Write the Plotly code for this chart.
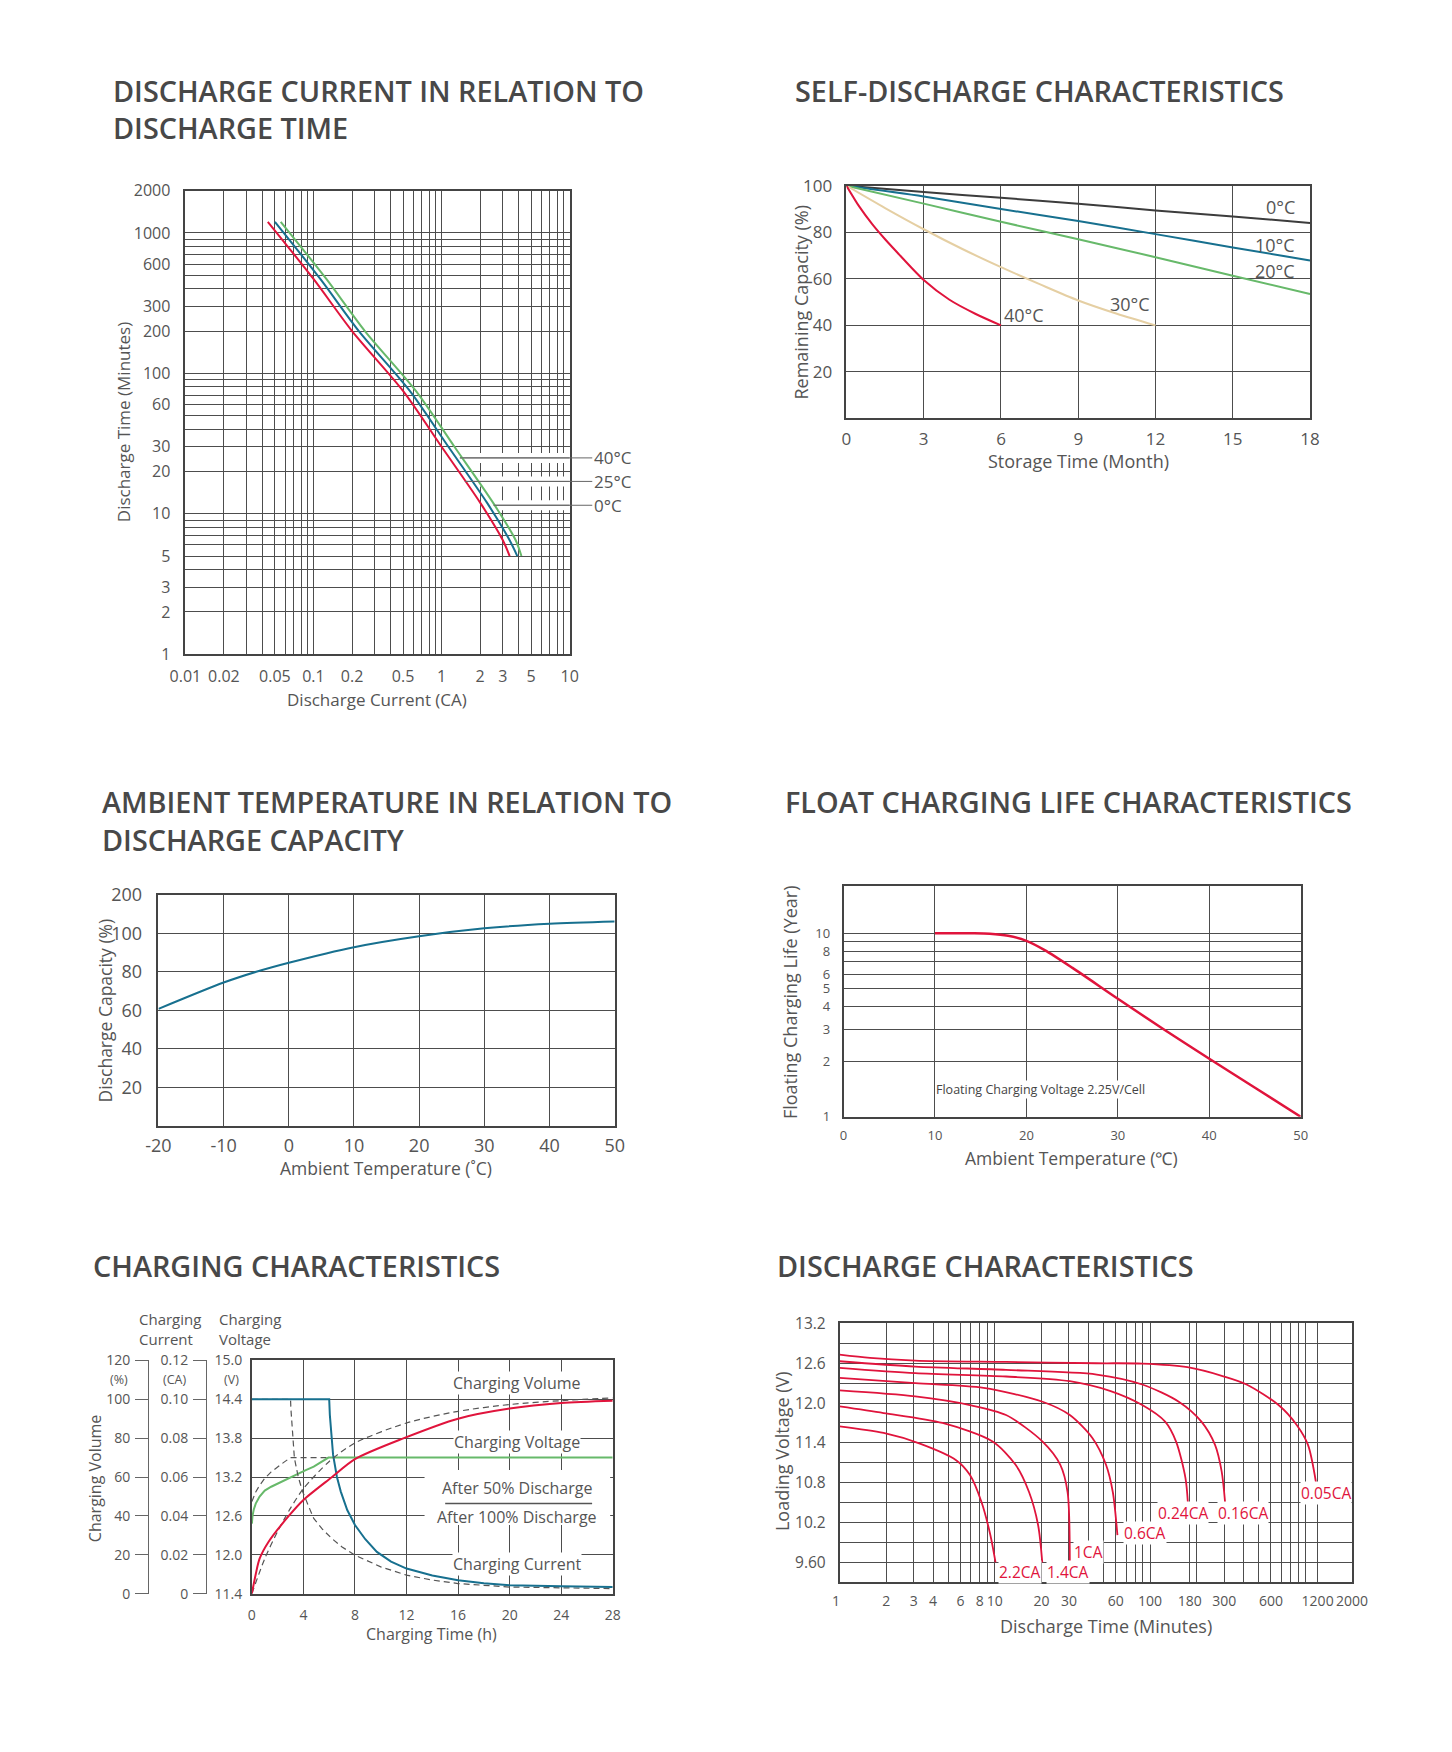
import math
import plotly.graph_objects as go

W, H = 1452, 1752
FONT = "Open Sans"
TXT = "#555555"
TITLE_C = "#484848"
GRID = "#4d4d4d"
FRAME = "#444444"
RED = "#e0143c"
BLUE = "#17708f"
GREEN = "#67b96a"
TAN = "#e5cfa3"
DARK = "#3c3c3c"
DASH = "#555555"
NB = "\u00a0"

# ---------------- Panel 1: discharge current vs discharge time ----------------
p1_minutes = [1200, 470, 200, 75, 30, 12, 6.5, 5]
p1_ca_0c = [0.044, 0.1, 0.2, 0.5, 1.0, 2.0, 3.0, 3.4]
p1_ca_25c = [0.05, 0.113, 0.226, 0.565, 1.13, 2.26, 3.39, 3.9]
p1_ca_40c = [0.0555, 0.126, 0.252, 0.63, 1.26, 2.52, 3.78, 4.2]
p1_x_labels = ["0.01", "0.02", "0.05", "0.1", "0.2", "0.5", "1", "2", "3", "5", "10"]
p1_y_labels = ["1", "2", "3", "5", "10", "20", "30", "60", "100", "200", "300", "600", "1000", "2000"]
p1_leader_labels = ["40°C", "25°C", "0°C"]
p1_leader_minutes = [25, 17, 11.5]
p1_leader_start_ca = [1.39, 1.52, 2.55]

# ---------------- Panel 2: self-discharge ----------------
sd_months = [0, 3, 6, 9, 12, 15, 18]
sd_0c = [100, 97.3, 94.8, 92.3, 89.4, 86.8, 84.0]
sd_10c = [100, 95.4, 90.0, 84.8, 79.2, 73.5, 67.9]
sd_20c = [100, 92.3, 84.5, 77.0, 69.3, 61.3, 53.5]
sd_30c_months = [0, 1.5, 3, 4.5, 6, 7.5, 9, 10.5, 12]
sd_30c = [100, 90.4, 81.3, 72.8, 65.0, 57.7, 50.7, 45.0, 40.0]
sd_40c_months = [0, 0.5, 1, 1.5, 2, 3, 4, 5, 6]
sd_40c = [100, 91.0, 83.5, 77.0, 71.0, 59.5, 51.0, 45.0, 40.0]
sd_x_ticks = [0, 3, 6, 9, 12, 15, 18]
sd_y_ticks = [0, 20, 40, 60, 80, 100]
sd_y_labels = ["", "20", "40", "60", "80", "100"]

# ---------------- Panel 3: ambient temperature vs capacity ----------------
amb_temp = [-20, -10, -5, 0, 10, 20, 30, 40, 50]
amb_cap = [60.7, 74.4, 80.0, 84.7, 92.8, 98.5, 102.6, 105.0, 106.2]
amb_x_ticks = [-20, -10, 0, 10, 20, 30, 40, 50]
amb_y_ticks = [20, 40, 60, 80, 100, 120]
amb_y_labels = ["20", "40", "60", "80", "100", "200"]

# ---------------- Panel 4: float charging life ----------------
fl_temp = [10, 14, 16, 18, 20, 22, 25, 30, 35, 40, 45, 50]
fl_life = [10, 10, 9.95, 9.7, 9.1, 8.1, 6.5, 4.4, 3.0, 2.07, 1.44, 1.0]
fl_x_ticks = [0, 10, 20, 30, 40, 50]
fl_y_grid = [1, 2, 3, 4, 5, 6, 7, 8, 9, 10]
fl_y_labels = ["1", "2", "3", "4", "5", "6", "8", "10"]

# ---------------- Panel 5: charging characteristics ----------------
ch_cur_h = [0, 6.0, 6.05, 6.15, 6.3, 6.6, 6.9, 7.4, 8.0, 8.8, 9.7, 10.8, 12, 14, 16, 18, 20, 24, 28]
ch_cur = [0.1, 0.1, 0.092, 0.082, 0.0715, 0.06, 0.0525, 0.043, 0.0353, 0.028, 0.0215, 0.0165,
          0.0129, 0.0093, 0.0069, 0.0053, 0.0043, 0.0038, 0.0034]
ch_vol_h = [0, 0.3, 0.6, 1.3, 2.88, 4, 6.2, 8, 11.8, 16, 20, 24, 28]
ch_vol = [0, 10, 18, 26.7, 40.1, 48.2, 59.9, 69.2, 80, 90, 95.2, 98.1, 99.3]
ch_volt_h = [0, 0.05, 0.15, 0.3, 0.6, 1.0, 1.5, 2.0, 2.7, 3.4, 4.1, 4.8, 5.4, 5.94, 28]
ch_volt = [12.48, 12.6, 12.7, 12.79, 12.9, 12.99, 13.05, 13.1, 13.17, 13.23, 13.3, 13.36, 13.43, 13.5, 13.5]
ch50_cur_h = [0, 3.0, 3.03, 3.1, 3.2, 3.3, 3.6, 3.94, 4.4, 4.8, 5.5, 6.2, 7, 8, 10, 12, 14, 16, 20, 28]
ch50_cur = [0.1, 0.1, 0.095, 0.087, 0.078, 0.0697, 0.06, 0.0525, 0.045, 0.0387, 0.033, 0.0284,
            0.024, 0.0198, 0.0138, 0.0095, 0.007, 0.0052, 0.0034, 0.0026]
ch50_vol_h = [0, 1, 2, 3, 4, 6, 8, 12, 16, 20, 24, 28]
ch50_vol = [0, 18, 32, 44, 54, 68, 77.5, 87.8, 93.8, 97.3, 99.3, 100.7]
ch50_volt_h = [0, 0.3, 0.6, 1.0, 1.5, 2.0, 2.5, 3.0, 6.0]
ch50_volt = [12.82, 12.97, 13.07, 13.18, 13.28, 13.36, 13.43, 13.5, 13.5]
ch_x_ticks = [0, 4, 8, 12, 16, 20, 24, 28]
ch_v_ticks = [11.4, 12.0, 12.6, 13.2, 13.8, 14.4, 15.0]
ch_v_labels = ["11.4", "12.0", "12.6", "13.2", "13.8", "14.4", "15.0"]
ch_c_ticks = [0, 0.02, 0.04, 0.06, 0.08, 0.10, 0.12]
ch_c_labels = ["0", "0.02", "0.04", "0.06", "0.08", "0.10", "0.12"]
ch_p_ticks = [0, 20, 40, 60, 80, 100, 120]
ch_p_labels = ["0", "20", "40", "60", "80", "100", "120"]

# ---------------- Panel 6: discharge characteristics ----------------
dc_names = ["0.05CA", "0.16CA", "0.24CA", "0.6CA", "1CA", "1.4CA", "2.2CA"]
dc_t_005 = [1, 1.57, 3.07, 11.8, 45, 89, 174, 300, 418, 672, 880, 1040, 1170]
dc_v_005 = [12.73, 12.68, 12.64, 12.62, 12.60, 12.595, 12.54, 12.4, 12.28, 11.97, 11.67, 11.37, 10.81]
dc_t_016 = [1, 3.07, 11.8, 45.3, 89, 153, 214, 262, 289, 304]
dc_v_016 = [12.63, 12.55, 12.5, 12.43, 12.28, 12.02, 11.72, 11.37, 10.97, 10.51]
dc_t_024 = [1, 3.07, 11.8, 30.4, 55.7, 89, 125, 147, 169, 175]
dc_v_024 = [12.53, 12.45, 12.4, 12.33, 12.18, 11.97, 11.72, 11.42, 10.87, 10.51]
dc_t_06 = [1, 3.07, 8.46, 20.3, 30.4, 42.6, 52, 57.5, 61.6]
dc_v_06 = [12.38, 12.3, 12.23, 12.02, 11.82, 11.47, 11.07, 10.66, 10.01]
dc_t_1 = [1, 3.07, 6.9, 11.8, 20.3, 26.4, 29.4, 30.4]
dc_v_1 = [12.19, 12.1, 11.97, 11.82, 11.42, 11.07, 10.66, 9.6]
dc_t_14 = [1, 1.92, 4.6, 9.67, 13.6, 16.6, 19.0, 20.2]
dc_v_14 = [11.95, 11.85, 11.7, 11.42, 11.07, 10.66, 10.16, 9.6]
dc_t_22 = [1, 1.92, 3.29, 5.63, 6.9, 8.2, 9.36, 10.1]
dc_v_22 = [11.65, 11.55, 11.39, 11.14, 10.92, 10.51, 10.01, 9.6]
dc_label_t = [929, 271, 111, 66.8, 32, 21.3, 10.5]
dc_label_v = [10.64, 10.35, 10.35, 10.05, 9.75, 9.45, 9.45]
dc_x_labels = ["1", "2", "3", "4", "6", "8", "10", "20", "30", "60", "100", "180", "300", "600", "1200", "2000"]
dc_y_labels = ["9.60", "10.2", "10.8", "11.4", "12.0", "12.6", "13.2"]


# ---------------- helpers ----------------
def xdom(l, r):
    return [l / W, r / W]


def ydom(t, b):
    return [1 - b / H, 1 - t / H]


def make_ticks(grid, labels):
    vals = [float(s) for s in labels]
    out = []
    for g in grid:
        t = ""
        for v, s in zip(vals, labels):
            if abs(v - g) <= 1e-6 * max(1.0, abs(g)):
                t = s
        out.append(t)
    return out


def axis(domain, anchor, rng, tickvals, ticktext, size, standoff, typ="linear"):
    return dict(domain=domain, anchor=anchor, range=rng, type=typ,
                tickmode="array", tickvals=tickvals, ticktext=ticktext,
                showgrid=True, gridcolor=GRID, gridwidth=1.1,
                showline=True, mirror=True, linecolor=FRAME, linewidth=1.6,
                ticks="", zeroline=False, fixedrange=True, tickangle=0,
                tickfont=dict(family=FONT, size=size, color=TXT),
                ticklabelstandoff=standoff)


def txt(text, x, y, size, color=TXT, xanchor="center", yanchor="middle", angle=0,
        weight=None, xref="paper", yref="paper", bg=None, align="center"):
    f = dict(family=FONT, size=size, color=color)
    if weight:
        f["weight"] = weight
    d = dict(text=text, x=x, y=y, xref=xref, yref=yref, showarrow=False,
             xanchor=xanchor, yanchor=yanchor, textangle=angle, font=f, align=align)
    if bg:
        d["bgcolor"] = bg
        d["borderpad"] = 0
    return d


def P(x, y):
    return x / W, 1 - y / H


fig = go.Figure()


def line(x, y, xa, ya, color, width=2, dash=None, shape="spline"):
    fig.add_trace(go.Scatter(x=x, y=y, xaxis=xa, yaxis=ya, mode="lines",
                             line=dict(color=color, width=width, dash=dash,
                                       shape=shape, smoothing=0.8),
                             hoverinfo="skip", showlegend=False))


# Panel 1 traces
line(p1_ca_0c, p1_minutes, "x", "y", RED)
line(p1_ca_25c, p1_minutes, "x", "y", BLUE)
line(p1_ca_40c, p1_minutes, "x", "y", GREEN)
# Panel 2
line(sd_months, sd_0c, "x2", "y2", DARK)
line(sd_months, sd_10c, "x2", "y2", BLUE)
line(sd_months, sd_20c, "x2", "y2", GREEN)
line(sd_30c_months, sd_30c, "x2", "y2", TAN)
line(sd_40c_months, sd_40c, "x2", "y2", RED)
# Panel 3
line(amb_temp, amb_cap, "x3", "y3", BLUE)
# Panel 4
line(fl_temp, fl_life, "x4", "y4", RED, width=2.5)
# Panel 5 (dashed first, then solid)
line(ch50_cur_h, ch50_cur, "x5", "y6", DASH, width=1.2, dash="6px,4px", shape="linear")
line(ch50_vol_h, ch50_vol, "x5", "y7", DASH, width=1.2, dash="6px,4px")
line(ch50_volt_h, ch50_volt, "x5", "y5", DASH, width=1.2, dash="6px,4px", shape="linear")
line(ch_volt_h, ch_volt, "x5", "y5", GREEN, shape="linear")
line(ch_vol_h, ch_vol, "x5", "y7", RED)
line(ch_cur_h, ch_cur, "x5", "y6", BLUE, shape="linear")
# Panel 6
for t, v in [(dc_t_005, dc_v_005), (dc_t_016, dc_v_016), (dc_t_024, dc_v_024),
             (dc_t_06, dc_v_06), (dc_t_1, dc_v_1), (dc_t_14, dc_v_14), (dc_t_22, dc_v_22)]:
    line(t, v, "x6", "y8", RED, width=1.8)

# ---------------- axes ----------------
p1_x_grid = [round(m * 10.0 ** e, 4) for e in (-2, -1, 0) for m in range(1, 10)] + [10]
p1_y_grid = [m * 10 ** e for e in range(0, 3) for m in range(1, 10)] + [1000, 2000]
dc_x_grid = list(range(1, 11)) + list(range(20, 101, 10)) + [180] + list(range(200, 1001, 100)) + [1200, 2000]
dc_y_grid = [round(9.3 + 0.3 * i, 1) for i in range(14)]
dc_x_text = make_ticks(dc_x_grid, dc_x_labels)
dc_x_text = [s + NB * 2 if s == "1" else s for s in dc_x_text]

lay = {}
lay["xaxis"] = axis(xdom(165, 558), "y", [-2, 1], p1_x_grid, make_ticks(p1_x_grid, p1_x_labels), 16, 7, "log")
lay["yaxis"] = axis(ydom(172, 642), "x", [0, math.log10(2000)], p1_y_grid, make_ticks(p1_y_grid, p1_y_labels), 16, 10, "log")

lay["xaxis2"] = axis(xdom(841, 1315), "y2", [0, 18], sd_x_ticks, [str(v) for v in sd_x_ticks], 17, 4)
lay["yaxis2"] = axis(ydom(167, 403), "x2", [0, 100], sd_y_ticks, sd_y_labels, 17, 9)

lay["xaxis3"] = axis(xdom(137.5, 604), "y3", [-20, 50], amb_x_ticks, [str(v) for v in amb_x_ticks], 18, 3)
lay["yaxis3"] = axis(ydom(886, 1120), "x3", [0, 120], amb_y_ticks, amb_y_labels, 18, 11)

lay["xaxis4"] = axis(xdom(838, 1305.5), "y4", [0, 50], fl_x_ticks, [str(v) for v in fl_x_ticks], 13, 6)
lay["yaxis4"] = axis(ydom(877.5, 1111), "x4", [0, math.log10(18)], fl_y_grid, make_ticks(fl_y_grid, fl_y_labels), 13, 9, "log")

lay["xaxis5"] = axis(xdom(233, 602), "y5", [0, 28], ch_x_ticks, [str(v) for v in ch_x_ticks], 14, 8)
lay["yaxis5"] = axis(ydom(1358, 1594.5), "x5", [11.4, 15.0], ch_v_ticks, ch_v_labels, 14, 5)
for name, pos, rng, tv, tt in [("yaxis6", 185.6, [0, 0.12], ch_c_ticks, ch_c_labels),
                               ("yaxis7", 126.4, [0, 120], ch_p_ticks, ch_p_labels)]:
    lay[name] = dict(overlaying="y5", anchor="free", position=pos / W, side="left",
                     range=rng, tickmode="array", tickvals=tv, ticktext=tt,
                     showgrid=False, zeroline=False, showline=True, linecolor="#666666",
                     linewidth=1, ticks="outside", ticklen=12.5, tickcolor="#666666",
                     tickwidth=1, fixedrange=True, ticklabelstandoff=2, tickangle=0,
                     tickfont=dict(family=FONT, size=14, color=TXT))

lay["xaxis6"] = axis(xdom(834, 1358), "y8", [0, math.log10(2000)], dc_x_grid, dc_x_text, 14, 5, "log")
lay["yaxis8"] = axis(ydom(1320.5, 1583), "x6", [9.3, 13.2], dc_y_grid, make_ticks(dc_y_grid, dc_y_labels), 15.5, 9)

# ---------------- annotations ----------------
ann = []
titles = [("DISCHARGE CURRENT IN RELATION TO", 89, 70), ("DISCHARGE TIME", 89, 108),
          ("SELF-DISCHARGE CHARACTERISTICS", 786, 70),
          ("AMBIENT TEMPERATURE IN RELATION TO", 78, 791.5), ("DISCHARGE CAPACITY", 78, 830),
          ("FLOAT CHARGING LIFE CHARACTERISTICS", 776, 791.5),
          ("CHARGING CHARACTERISTICS", 68.5, 1262),
          ("DISCHARGE CHARACTERISTICS", 767.5, 1262)]
for t, x, y in titles:
    px, py = P(x, y)
    ann.append(txt(t, px, py, 28.8, TITLE_C, xanchor="left", weight=600))

axis_titles = [("Discharge Time (Minutes)", 102, 407, 17, -90),
               ("Discharge Current (CA)", 361, 688, 17, 0),
               ("Remaining Capacity (%)", 795, 285, 18, -90),
               ("Storage Time (Month)", 1078, 446, 18, 0),
               ("Discharge Capacity (%)", 83, 1003, 17.5, -90),
               ("Ambient Temperature (˚C)", 370, 1163, 17.5, 0),
               ("Floating Charging Life (Year)", 784, 995, 18, -90),
               ("Ambient Temperature (℃)", 1071, 1153, 17.5, 0),
               ("Charging Volume", 72, 1477, 16, -90),
               ("Charging Time (h)", 417, 1635, 16, 0),
               ("Loading Voltage (V)", 775, 1450, 18, -90),
               ("Discharge Time (Minutes)", 1106, 1627, 18, 0)]
for t, x, y, s, a in axis_titles:
    px, py = P(x, y)
    ann.append(txt(t, px, py, s, angle=a))

# panel 1 leader labels
for lab, mins, start in zip(p1_leader_labels, p1_leader_minutes, p1_leader_start_ca):
    ann.append(dict(text=lab, x=math.log10(start), y=math.log10(mins), xref="x", yref="y",
                    ax=1.176, ay=math.log10(mins), axref="x", ayref="y",
                    showarrow=True, arrowhead=0, arrowwidth=1, arrowcolor="#666666",
                    xanchor="left", yanchor="middle",
                    font=dict(family=FONT, size=17, color=TXT)))

# panel 2 curve labels
for lab, x, y, xa in [("0°C", 17.5, 90.8, "right"), ("10°C", 17.5, 74.6, "right"),
                      ("20°C", 17.5, 63.4, "right"), ("30°C", 11.0, 49.3, "center"),
                      ("40°C", 6.9, 44.4, "center")]:
    ann.append(txt(lab, x, y, 18, xanchor=xa, xref="x2", yref="y2"))

# panel 4 note
ann.append(txt("Floating Charging Voltage 2.25V/Cell", 10, 0.151, 12.5, "#444444",
               xanchor="left", xref="x4", yref="y4", bg="white"))

# panel 5 headers and units
for t, x in [("Charging<br>Current", 115.5), ("Charging<br>Voltage", 197)]:
    px, py = P(x, 1326)
    ann.append(txt(t, px, py, 15, xanchor="left", align="left"))
ann.append(txt("(%)", 97 / W, 110, 12.5, yref="y7"))
ann.append(txt("(CA)", 154 / W, 0.11, 12.5, yref="y6"))
ann.append(txt("(V)", 212 / W, 14.7, 12.5, yref="y5"))
for t, y in [("Charging Volume", 14.65), ("Charging Voltage", 13.74), ("Charging Current", 11.85)]:
    ann.append(txt(t, 20.6, y, 16, xref="x5", yref="y5", bg="white"))
for t, y in [("After 50% Discharge", 13.03), ("After 100% Discharge", 12.59)]:
    ann.append(txt(t, 20.6, y, 16, xref="x5", yref="y5"))

# panel 6 labels
for name, t, v in zip(dc_names, dc_label_t, dc_label_v):
    ann.append(txt(name, math.log10(t), v, 15.5, RED, xanchor="left", xref="x6", yref="y8", bg="white"))

# ---------------- shapes ----------------
shapes = []
for mins, start in zip(p1_leader_minutes, p1_leader_start_ca):
    shapes.append(dict(type="line", xref="x", yref="y", x0=start, x1=10, y0=mins, y1=mins,
                       line=dict(color="white", width=10), layer="between"))
    shapes.append(dict(type="line", xref="x", yref="y", x0=start, x1=10, y0=mins, y1=mins,
                       line=dict(color="#666666", width=1), layer="between"))
shapes.append(dict(type="rect", xref="x5", yref="y5", x0=13.4, x1=27.8, y0=12.46, y1=13.31,
                   fillcolor="white", line=dict(width=0), layer="between"))
shapes.append(dict(type="line", xref="x5", yref="y5", x0=15.0, x1=26.4, y0=12.79, y1=12.79,
                   line=dict(color="#555555", width=1.5), layer="above"))

fig.update_layout(width=W, height=H, margin=dict(l=0, r=0, t=0, b=0),
                  paper_bgcolor="white", plot_bgcolor="white", showlegend=False,
                  annotations=ann, shapes=shapes, font=dict(family=FONT, color=TXT), **lay)

fig.write_html("out.html")
